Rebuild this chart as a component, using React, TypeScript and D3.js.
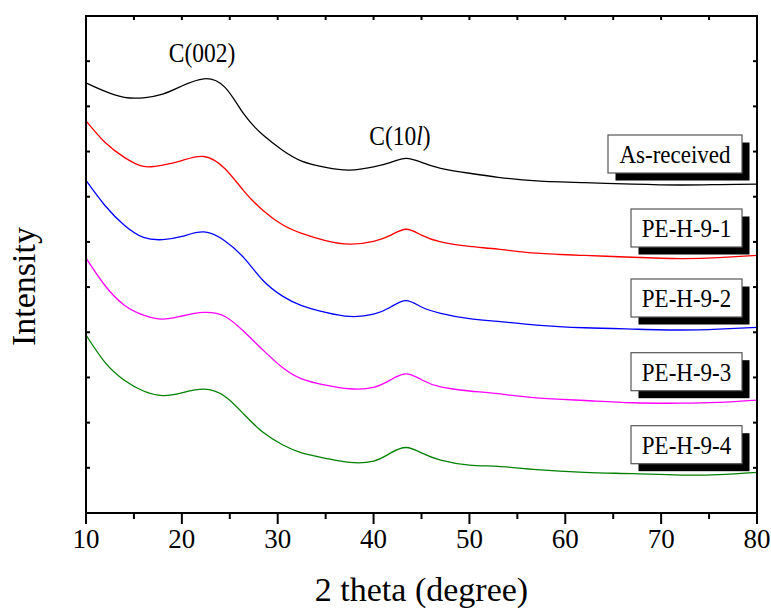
import React from "react";
import * as d3 from "d3";

const theta = [10, 12, 14, 16, 18, 20, 22.3, 24.5, 26.5, 28.5, 30.5, 32.5, 35, 37.5, 40, 41.8, 43.4, 45, 47, 50, 53, 57, 62, 67, 72, 76, 80];

const asReceived = [9.52, 9.33, 9.2, 9.19, 9.27, 9.45, 9.61, 9.42, 8.82, 8.36, 8.03, 7.79, 7.65, 7.59, 7.66, 7.76, 7.85, 7.76, 7.63, 7.52, 7.43, 7.35, 7.31, 7.28, 7.26, 7.27, 7.28];
const peH91 = [8.68, 8.2, 7.87, 7.67, 7.7, 7.8, 7.89, 7.62, 7.12, 6.69, 6.38, 6.19, 6.03, 5.95, 6.01, 6.15, 6.28, 6.15, 6.0, 5.9, 5.84, 5.75, 5.7, 5.66, 5.63, 5.65, 5.7];
const peH92 = [7.36, 6.8, 6.37, 6.1, 6.05, 6.12, 6.22, 6.02, 5.64, 5.14, 4.8, 4.59, 4.44, 4.35, 4.4, 4.56, 4.7, 4.56, 4.42, 4.3, 4.24, 4.16, 4.1, 4.07, 4.05, 4.07, 4.11];
const peH93 = [5.64, 5.03, 4.6, 4.38, 4.29, 4.36, 4.44, 4.35, 4.01, 3.6, 3.22, 2.97, 2.83, 2.75, 2.78, 2.95, 3.08, 2.95, 2.79, 2.7, 2.64, 2.55, 2.49, 2.44, 2.43, 2.45, 2.5];
const peH94 = [3.94, 3.33, 2.94, 2.7, 2.6, 2.66, 2.74, 2.58, 2.18, 1.78, 1.51, 1.33, 1.21, 1.12, 1.15, 1.33, 1.45, 1.33, 1.17, 1.06, 1.03, 0.96, 0.9, 0.87, 0.84, 0.85, 0.9];

const seriesNames = ["As-received", "PE-H-9-1", "PE-H-9-2", "PE-H-9-3", "PE-H-9-4"];
const seriesValues = [asReceived, peH91, peH92, peH93, peH94];
const seriesColors = ["#000000", "#ff0000", "#0000ff", "#ff00ff", "#008000"];

const xMajorTicks = [10, 20, 30, 40, 50, 60, 70, 80];
const xMinorTicks = [15, 25, 35, 45, 55, 65, 75];
const yTicks = [0, 1, 2, 3, 4, 5, 6, 7, 8, 9, 10, 11];

// layout
const W = 771, H = 608;
const left = 86, right = 757, top = 16, bottom = 513;
const legendTops = [135, 209, 279, 352.7, 425.7];
const legendWidths = [134, 111, 111, 111, 111];
const FONT = "Liberation Serif, DejaVu Serif, serif";

function SText({ x, y, size, children, anchor = "middle", sy = 1.13 }: any) {
  return (
    <text
      transform={`translate(${x},${y}) scale(1,${sy})`}
      fontSize={size}
      fontFamily={FONT}
      textAnchor={anchor}
      fill="#000"
    >
      {children}
    </text>
  );
}

export default function App() {
  const x = d3.scaleLinear().domain([10, 80]).range([left, right]);
  const y = d3.scaleLinear().domain([0, 11]).range([bottom, top]);
  const line = d3
    .line<[number, number]>()
    .x((d) => x(d[0]))
    .y((d) => y(d[1]))
    .curve(d3.curveNatural);

  const topTicks = d3.range(10, 80.01, 5);

  return (
    <svg
      width={W}
      height={H}
      style={{ position: "absolute", left: 0, top: 0, background: "#fff" }}
    >
      <rect x={0} y={0} width={W} height={H} fill="#fff" />
      {seriesValues.map((vals, i) => (
        <path
          key={i}
          d={line(theta.map((t, j) => [t, vals[j]]) as [number, number][]) || ""}
          fill="none"
          stroke={seriesColors[i]}
          strokeWidth={1.3}
        />
      ))}

      {/* frame */}
      <rect x={left} y={top} width={right - left} height={bottom - top} fill="none" stroke="#000" strokeWidth={2} />

      {/* bottom ticks */}
      {xMajorTicks.map((t) => (
        <line key={"bm" + t} x1={x(t)} x2={x(t)} y1={bottom} y2={bottom + 11} stroke="#000" strokeWidth={2} />
      ))}
      {xMinorTicks.map((t) => (
        <line key={"bn" + t} x1={x(t)} x2={x(t)} y1={bottom} y2={bottom + 6} stroke="#000" strokeWidth={2} />
      ))}
      {/* top ticks */}
      {topTicks.map((t) => (
        <line key={"tt" + t} x1={x(t)} x2={x(t)} y1={top} y2={top + 4} stroke="#000" strokeWidth={2} />
      ))}
      {/* left/right ticks */}
      {yTicks.map((t) => (
        <g key={"yt" + t}>
          <line x1={left} x2={left + 4} y1={y(t)} y2={y(t)} stroke="#000" strokeWidth={2} />
          <line x1={right - 4} x2={right} y1={y(t)} y2={y(t)} stroke="#000" strokeWidth={2} />
        </g>
      ))}

      {/* tick labels */}
      {xMajorTicks.map((t) => (
        <text key={"tl" + t} x={x(t)} y={548} fontSize={27} fontFamily={FONT} textAnchor="middle" fill="#000">
          {t}
        </text>
      ))}

      {/* axis titles */}
      <text x={(left + right) / 2} y={601} fontSize={34} fontFamily={FONT} textAnchor="middle" fill="#000">
        2 theta (degree)
      </text>
      <text
        transform={`translate(35,${(top + bottom) / 2 + 22}) rotate(-90)`}
        fontSize={34}
        fontFamily={FONT}
        textAnchor="middle"
        fill="#000"
      >
        Intensity
      </text>

      {/* annotations */}
      <SText x={202} y={62} size={23.5}>C(002)</SText>
      <SText x={400} y={145} size={23.5}>
        C(10<tspan fontStyle="italic">l</tspan>)
      </SText>

      {/* legend boxes */}
      {seriesNames.map((name, i) => {
        const bw = legendWidths[i];
        const bh = 38;
        const bx = 742 - bw;
        const by = legendTops[i];
        return (
          <g key={"lg" + i}>
            <rect x={bx + 7.5} y={by + 7.5} width={bw} height={bh} fill="#000" />
            <rect x={bx} y={by} width={bw} height={bh} fill="#fff" stroke="#555" strokeWidth={1.2} />
            <SText x={bx + bw / 2} y={by + 28} size={23}>
              {name}
            </SText>
          </g>
        );
      })}
    </svg>
  );
}
